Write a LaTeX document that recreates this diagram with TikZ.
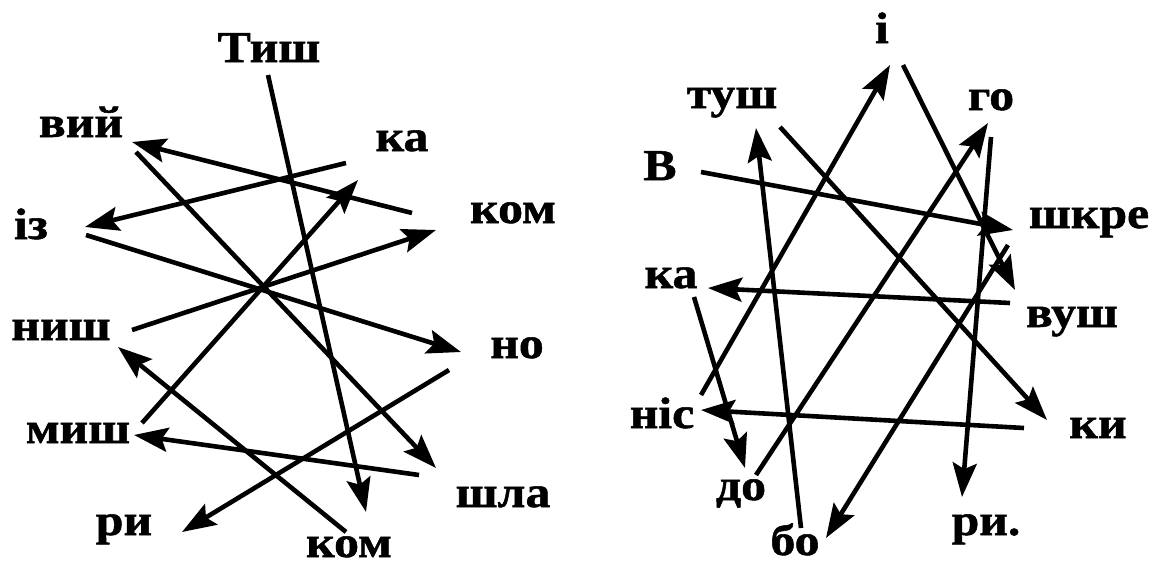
\documentclass[tikz,border=0pt]{standalone}
\usepackage{fontspec}
\setmainfont{Liberation Serif}[BoldFeatures={FakeStretch=1.13,FakeBold=1.2}]
\usetikzlibrary{arrows.meta}

\begin{document}
\begin{tikzpicture}[
  x=1pt, y=-1pt,
  w/.style={font=\fontsize{44}{50}\selectfont\bfseries, anchor=base, inner sep=0pt},
  arr/.style={-{Stealth[length=34pt, width=24pt, inset=6pt]}, line width=4.6pt},
]
\useasboundingbox (0,0) rectangle (1152,565);

% left: words
\node[w] (tysh) at (269,62) {Тиш};
\node[w] (vyj)  at (81,137) {вий};
\node[w] (ka)   at (402,151) {ка};
\node[w] (kom2) at (513,223) {ком};
\node[w] (iz)   at (31,239) {із};
\node[w] (nysh) at (61,340) {ниш};
\node[w] (no)   at (517,358) {но};
\node[w] (mysh) at (78,443) {миш};
\node[w] (shla) at (503,507) {шла};
\node[w] (ry)   at (124,535) {ри};
\node[w] (kom1) at (349,557) {ком};

% left: ends of the arrows
\coordinate (tysh-o) at (268,75);  \coordinate (kom1-i) at (366,512);
\coordinate (kom1-o) at (346,532); \coordinate (nysh-i) at (118,347);
\coordinate (nysh-o) at (132,330); \coordinate (kom2-i) at (436,230);
\coordinate (kom2-o) at (412,213); \coordinate (vyj-i)  at (132,142);
\coordinate (vyj-o)  at (136,152); \coordinate (shla-i) at (436,468);
\coordinate (shla-o) at (419,475); \coordinate (mysh-i) at (134,435);
\coordinate (mysh-o) at (142,423); \coordinate (ka-i)   at (358,180);
\coordinate (ka-o)   at (346,163); \coordinate (iz-i)   at (85,227);
\coordinate (iz-o)   at (86,235);  \coordinate (no-i)   at (461,352);
\coordinate (no-o)   at (449,370); \coordinate (ry-i)   at (182,532);

\draw[arr] (tysh-o) -- (kom1-i);
\draw[arr] (kom1-o) -- (nysh-i);
\draw[arr] (nysh-o) -- (kom2-i);
\draw[arr] (kom2-o) -- (vyj-i);
\draw[arr] (vyj-o) -- (shla-i);
\draw[arr] (shla-o) -- (mysh-i);
\draw[arr] (mysh-o) -- (ka-i);
\draw[arr] (ka-o) -- (iz-i);
\draw[arr] (iz-o) -- (no-i);
\draw[arr] (no-o) -- (ry-i);

% right: words
\node[w] (i)     at (882,43) {і};
\node[w] (tush)  at (732,108) {туш};
\node[w] (go)    at (991,110) {го};
\node[w] (v)     at (660,180) {В};
\node[w] (shkre) at (1089,228) {шкре};
\node[w] (ka2)   at (671,288) {ка};
\node[w] (vush)  at (1072,327) {вуш};
\node[w] (nis)   at (662,428) {ніс};
\node[w] (ky)    at (1098,438) {ки};
\node[w] (do)    at (741,500) {до};
\node[w] (bo)    at (795,555) {бо};
\node[w] (ry2)   at (986,535) {ри.};

% right: ends of the arrows
\coordinate (v-o)     at (701,172);  \coordinate (shkre-i) at (1013,230);
\coordinate (shkre-o) at (1008,245); \coordinate (bo-i)    at (826,538);
\coordinate (bo-o)    at (801,528);  \coordinate (tush-i)  at (756,128);
\coordinate (tush-o)  at (780,127);  \coordinate (ky-i)    at (1047,420);
\coordinate (ky-o)    at (1024,428); \coordinate (nis-i)   at (701,410);
\coordinate (nis-o)   at (701,395);  \coordinate (i-i)     at (890,65);
\coordinate (i-o)     at (903,65);   \coordinate (vush-i)  at (1015,290);
\coordinate (vush-o)  at (1010,303); \coordinate (ka2-i)   at (708,288);
\coordinate (ka2-o)   at (694,297);  \coordinate (do-i)    at (745,468);
\coordinate (do-o)    at (756,475);  \coordinate (go-i)    at (988,123);
\coordinate (go-o)    at (991,137);  \coordinate (ry2-i)   at (962,497);

\draw[arr] (v-o) -- (shkre-i);
\draw[arr] (shkre-o) -- (bo-i);
\draw[arr] (bo-o) -- (tush-i);
\draw[arr] (tush-o) -- (ky-i);
\draw[arr] (ky-o) -- (nis-i);
\draw[arr] (nis-o) -- (i-i);
\draw[arr] (i-o) -- (vush-i);
\draw[arr] (vush-o) -- (ka2-i);
\draw[arr] (ka2-o) -- (do-i);
\draw[arr] (do-o) -- (go-i);
\draw[arr] (go-o) -- (ry2-i);
\end{tikzpicture}
\end{document}
